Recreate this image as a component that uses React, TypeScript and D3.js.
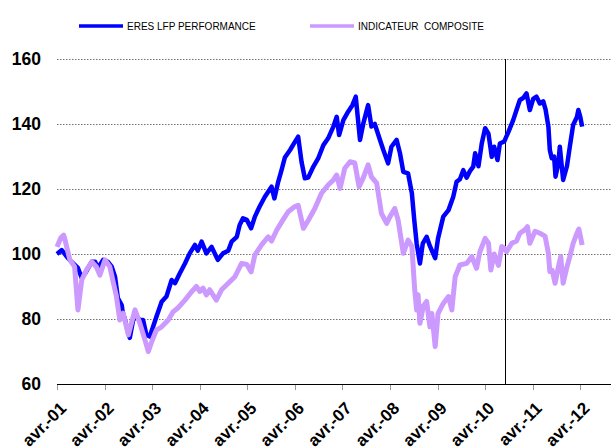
import React, { useEffect, useRef } from "react";
import * as d3 from "d3";

// decimal years (avr.-01 = 2001.25) and index values
const eresYears = [
  2001.25, 2001.35, 2001.48, 2001.59, 2001.69, 2001.77, 2001.86, 2001.98, 2002.05, 2002.11,
  2002.22, 2002.32, 2002.40, 2002.47, 2002.53, 2002.61, 2002.63, 2002.68, 2002.75, 2002.78,
  2002.85, 2002.92, 2002.99, 2003.06, 2003.13, 2003.20, 2003.27, 2003.34, 2003.45, 2003.55,
  2003.66, 2003.73, 2003.83, 2003.94, 2004.04, 2004.15, 2004.21, 2004.29, 2004.39, 2004.50,
  2004.63, 2004.74, 2004.85, 2004.92, 2005.03, 2005.09, 2005.16, 2005.24, 2005.33, 2005.41,
  2005.51, 2005.62, 2005.76, 2005.82, 2005.90, 2005.97, 2006.04, 2006.15, 2006.21, 2006.32,
  2006.39, 2006.46, 2006.53, 2006.64, 2006.74, 2006.85, 2006.95, 2007.06, 2007.13, 2007.18,
  2007.27, 2007.37, 2007.46, 2007.53, 2007.62, 2007.69, 2007.79, 2007.86, 2007.93, 2008.04,
  2008.11, 2008.21, 2008.28, 2008.39, 2008.46, 2008.53, 2008.63, 2008.71, 2008.76, 2008.81,
  2008.88, 2008.94, 2009.02, 2009.09, 2009.20, 2009.26, 2009.37, 2009.48, 2009.58, 2009.65,
  2009.72, 2009.79, 2009.86, 2009.93, 2010.00, 2010.04, 2010.11, 2010.18, 2010.25, 2010.32,
  2010.39, 2010.44, 2010.51, 2010.56, 2010.65, 2010.74, 2010.84, 2010.91, 2010.98, 2011.05,
  2011.12, 2011.19, 2011.26, 2011.33, 2011.40, 2011.47, 2011.52, 2011.58, 2011.61, 2011.65,
  2011.70, 2011.73, 2011.79, 2011.82, 2011.89, 2011.97, 2012.03, 2012.10, 2012.18, 2012.21,
  2012.25, 2012.29,
];
const eresValues = [
  100, 101.2, 98.7, 97.1, 95.7, 92.6, 94.5, 97.6, 97.6, 95.7,
  98.2, 97.6, 96.1, 93, 86.4, 84.3, 82.2, 79.7, 75.6, 74.2,
  79.7, 80.7, 79.7, 79.7, 75.1, 74.6, 77.6, 80.7, 85.3, 86.9,
  92, 91, 94, 97.1, 100.2, 102.8, 101, 103.8, 100.2, 102.2,
  98.2, 100.2, 101, 103.8, 105.3, 108.9, 111, 110.5, 107.9, 111.5,
  114.6, 117.6, 120.7, 117.1, 122.2, 125.8, 129.7, 132, 133.5, 136.1,
  128.4, 123.3, 123.5, 126.9, 129.4, 133.5, 135.6, 139.2, 142.2, 136.6,
  141.2, 143.8, 145.8, 148.4, 135.1, 140.2, 145.8, 139.2, 140, 135.1,
  132, 127.9, 133, 135.1, 131, 125.3, 124.8, 118.7, 110.5, 103.3,
  97.1, 103.3, 105.3, 102.4, 98.7, 104.8, 111.5, 113.5, 117.6, 122.2,
  123, 125.8, 123.5, 125.5, 126.9, 131, 127, 134.1, 138.7, 137,
  129.9, 133, 128.9, 134, 134.6, 137.6, 141.2, 144.3, 147.4, 148,
  149.4, 144.3, 147.7, 148.4, 146.3, 147, 144.5, 139.2, 132, 129.5,
  130, 123.8, 128, 133, 122.8, 127, 133, 139.7, 142.2, 144.3,
  142.2, 139.2,
];

const compYears = [
  2001.25, 2001.33, 2001.39, 2001.41, 2001.52, 2001.62, 2001.69, 2001.77, 2001.87, 2001.98,
  2002.08, 2002.15, 2002.26, 2002.36, 2002.50, 2002.57, 2002.64, 2002.75, 2002.82, 2002.89,
  2002.99, 2003.10, 2003.17, 2003.24, 2003.34, 2003.45, 2003.59, 2003.69, 2003.79, 2003.94,
  2004.08, 2004.18, 2004.25, 2004.32, 2004.39, 2004.46, 2004.60, 2004.71, 2004.85, 2004.99,
  2005.13, 2005.24, 2005.33, 2005.41, 2005.55, 2005.69, 2005.76, 2005.87, 2006.00, 2006.11,
  2006.25, 2006.32, 2006.43, 2006.53, 2006.67, 2006.81, 2006.95, 2007.06, 2007.13, 2007.20,
  2007.30, 2007.41, 2007.51, 2007.60, 2007.69, 2007.79, 2007.86, 2007.97, 2008.07, 2008.18,
  2008.25, 2008.35, 2008.42, 2008.53, 2008.63, 2008.71, 2008.77, 2008.81, 2008.84, 2008.88,
  2008.95, 2009.02, 2009.09, 2009.13, 2009.20, 2009.26, 2009.37, 2009.48, 2009.55, 2009.62,
  2009.72, 2009.86, 2009.97, 2010.07, 2010.14, 2010.25, 2010.32, 2010.37, 2010.44, 2010.53,
  2010.60, 2010.65, 2010.70, 2010.81, 2010.91, 2010.98, 2011.09, 2011.14, 2011.19, 2011.30,
  2011.40, 2011.51, 2011.58, 2011.61, 2011.66, 2011.72, 2011.79, 2011.84, 2011.89, 2011.97,
  2012.03, 2012.10, 2012.18, 2012.22, 2012.29,
];
const compValues = [
  102.2, 105, 105.8, 104.9, 98.2, 96.1, 82.8, 92, 95.1, 97.6,
  96, 93.5, 98.2, 96.1, 86.9, 79.7, 81.8, 75.1, 79, 82.8,
  78.8, 73.5, 70, 73, 76.6, 77.6, 79.7, 82.2, 83.4, 85.8,
  88.4, 90, 88.5, 89.5, 87.4, 89, 85.8, 89, 91, 93,
  97.1, 96.8, 94.5, 99.7, 102.8, 105.3, 104, 107.4, 110.5, 113,
  114.6, 115, 107.9, 110.3, 114, 118.7, 121.2, 122.8, 124.3, 120.2,
  126.4, 128.4, 128, 120.7, 123.5, 127.4, 123.7, 121.8, 112.5, 109.4,
  111.5, 114, 110.5, 100.2, 104.3, 102.3, 88.9, 82.8, 87.5, 78.7,
  84, 85.4, 77.6, 81.7, 71.5, 81.7, 84.8, 86.9, 82.8, 93,
  96.6, 97.1, 99.2, 95.6, 100.7, 104.8, 103.3, 95.1, 100, 96.5,
  102.3, 101.8, 100.7, 103.3, 104, 106.4, 107.5, 108.4, 103.3, 107,
  106.4, 105.5, 100.2, 94.6, 95, 91, 96, 99.2, 91, 96,
  99.2, 103.3, 106.4, 107.7, 102.8,
];

const yTicks = [60, 80, 100, 120, 140, 160];
const xTickLabels = [
  "avr.-01", "avr.-02", "avr.-03", "avr.-04", "avr.-05", "avr.-06",
  "avr.-07", "avr.-08", "avr.-09", "avr.-10", "avr.-11", "avr.-12",
];
const xTickYears = [
  2001.25, 2002.25, 2003.25, 2004.25, 2005.25, 2006.25,
  2007.25, 2008.25, 2009.25, 2010.25, 2011.25, 2012.25,
];
const markerYear = 2010.67;

const seriesNames = ["ERES LFP PERFORMANCE", "INDICATEUR  COMPOSITE"];
const seriesColors = ["#0000ff", "#cc99ff"];

const FONT = "Arial, 'Liberation Sans', sans-serif";

const PerformanceChart: React.FC = () => {
  const chartRef = useRef<HTMLDivElement>(null);

  useEffect(() => {
    const width = 611,
      height = 448;
    const left = 57,
      right = 612,
      top = 59,
      bottom = 384;

    d3.select(chartRef.current).selectAll("*").remove();

    const svg = d3
      .select(chartRef.current)
      .append("svg")
      .attr("width", width)
      .attr("height", height)
      .style("display", "block")
      .style("background", "#fff");

    const x = d3.scaleLinear().domain([2001.25, 2012.917]).range([left, right]);
    const y = d3.scaleLinear().domain([60, 160]).range([bottom, top]);

    // gridlines
    svg
      .append("g")
      .selectAll("line")
      .data(yTicks.filter((t) => t > 60))
      .enter()
      .append("line")
      .attr("x1", left)
      .attr("x2", width)
      .attr("y1", (d) => Math.round(y(d)) + 0.5)
      .attr("y2", (d) => Math.round(y(d)) + 0.5)
      .attr("stroke", "#707070")
      .attr("stroke-width", 1)
      .attr("stroke-dasharray", "1.5,1.5");

    // y labels
    svg
      .append("g")
      .selectAll("text")
      .data(yTicks)
      .enter()
      .append("text")
      .attr("x", 41)
      .attr("y", (d) => y(d))
      .attr("dy", "0.36em")
      .attr("text-anchor", "end")
      .attr("font-family", FONT)
      .attr("font-weight", "bold")
      .attr("font-size", 17.5)
      .text((d) => d);

    // x axis line + ticks
    svg
      .append("line")
      .attr("x1", left)
      .attr("x2", width)
      .attr("y1", bottom + 0.5)
      .attr("y2", bottom + 0.5)
      .attr("stroke", "#000")
      .attr("stroke-width", 1);

    svg
      .append("g")
      .selectAll("line")
      .data(xTickYears)
      .enter()
      .append("line")
      .attr("x1", (d) => Math.round(x(d)) + 0.5)
      .attr("x2", (d) => Math.round(x(d)) + 0.5)
      .attr("y1", bottom + 1)
      .attr("y2", bottom + 6)
      .attr("stroke", "#999")
      .attr("stroke-width", 1);

    svg
      .append("g")
      .selectAll("text")
      .data(xTickYears)
      .enter()
      .append("text")
      .attr("transform", (d) => `translate(${x(d) + 6},${bottom + 21}) rotate(-45)`)
      .attr("text-anchor", "end")
      .attr("dy", "0.36em")
      .attr("font-family", FONT)
      .attr("font-weight", "bold")
      .attr("font-size", 17)
      .text((d, i) => xTickLabels[i]);

    // vertical marker
    svg
      .append("line")
      .attr("x1", Math.round(x(markerYear)) + 0.5)
      .attr("x2", Math.round(x(markerYear)) + 0.5)
      .attr("y1", top)
      .attr("y2", bottom)
      .attr("stroke", "#000")
      .attr("stroke-width", 1);

    const line = d3
      .line<[number, number]>()
      .x((d) => x(d[0]))
      .y((d) => y(d[1]))
      .curve(d3.curveLinear);

    const eres = eresYears.map((t, i) => [t, eresValues[i]] as [number, number]);
    const comp = compYears.map((t, i) => [t, compValues[i]] as [number, number]);

    svg
      .append("path")
      .datum(eres)
      .attr("d", line)
      .attr("fill", "none")
      .attr("stroke", seriesColors[0])
      .attr("stroke-width", 4.5)
      .attr("stroke-linejoin", "round");

    svg
      .append("path")
      .datum(comp)
      .attr("d", line)
      .attr("fill", "none")
      .attr("stroke", seriesColors[1])
      .attr("stroke-width", 5)
      .attr("stroke-linejoin", "round");

    // legend
    const legendX = [79, 310];
    seriesNames.forEach((name, i) => {
      svg
        .append("line")
        .attr("x1", legendX[i])
        .attr("x2", legendX[i] + 44)
        .attr("y1", 26)
        .attr("y2", 26)
        .attr("stroke", seriesColors[i])
        .attr("stroke-width", 3.5);
      svg
        .append("text")
        .attr("x", legendX[i] + 48)
        .attr("y", 29.5)
        .attr("font-family", FONT)
        .attr("font-size", 10)
        .style("white-space", "pre")
        .text(name);
    });
  }, []);

  return (
    <div
      ref={chartRef}
      style={{ position: "absolute", left: 0, top: 0, width: 611, height: 448, overflow: "hidden" }}
    ></div>
  );
};

export default function App() {
  return <PerformanceChart />;
}
